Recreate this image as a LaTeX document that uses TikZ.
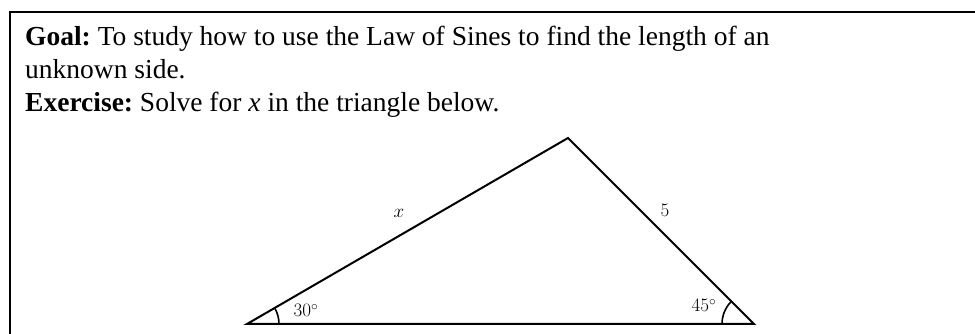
\RequirePackage{fix-cm}
\documentclass[tikz,border=0pt]{standalone}
\usepackage{fontspec}
\setmainfont{Liberation Serif}
\newfontfamily\lmfont{Latin Modern Roman}
\frenchspacing
\begin{document}
\begin{tikzpicture}[x=1pt,y=1pt,
  bodytext/.style={anchor=base west,inner sep=0pt,font=\fontsize{27.5}{33}\selectfont},
  lbl/.style={anchor=base,inner sep=0pt,font=\fontsize{19}{21}\selectfont\lmfont},
  edge/.style={line width=2pt,line join=miter}]
\useasboundingbox (0,0) rectangle (975,334);
\clip (0,0) rectangle (975,334);
\draw[line width=2pt] (10,-20) rectangle (995,322);
\node[bodytext] (l1) at (25,288) {\textbf{Goal:} To study how to use the Law of Sines to find the length of an};
\node[bodytext] (l2) at (25,255) {unknown side.};
\node[bodytext] (l3) at (25,222) {\textbf{Exercise:} Solve for \textit{x} in the triangle below.};
\coordinate (A) at (247,10);
\coordinate (B) at (754,10);
\coordinate (C) at (568,196);
\draw[edge] (A) -- (B) -- (C) -- cycle;
\draw[line width=1.6pt] ([xshift=32pt]A) arc (0:30:32);
\draw[line width=1.6pt] ([xshift=-32pt]B) arc (180:135:32);
\node[lbl] (lx) at (399,116) {$x$};
\node[lbl] (l5) at (665,117) {5};
\node[lbl] (la) at (306,17) {30$^\circ$};
\node[lbl] (lb) at (704,22) {45$^\circ$};
\end{tikzpicture}
\end{document}
